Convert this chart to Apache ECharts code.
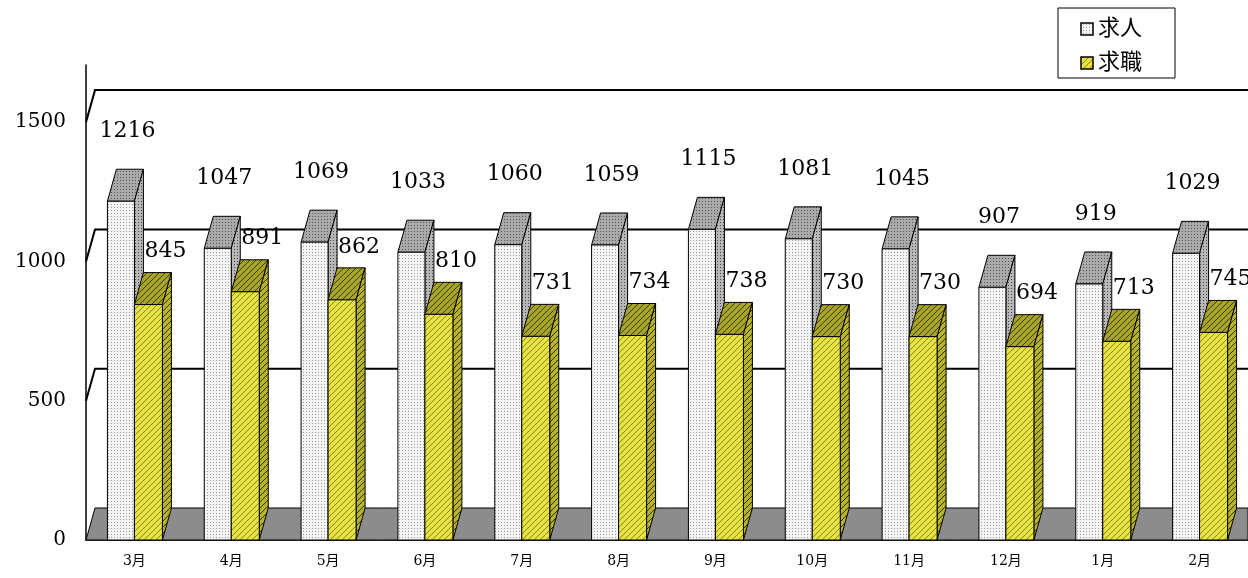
<!DOCTYPE html>
<html>
<head>
<meta charset="utf-8">
<script src="https://cdn.jsdelivr.net/npm/echarts@6/dist/echarts.min.js"></script>
<style>html,body{margin:0;padding:0;background:#fff}#main{width:1248px;height:578px}</style>
</head>
<body>
<div id="main"></div>
<script>
var months = ['3月', '4月', '5月', '6月', '7月', '8月', '9月', '10月', '11月', '12月', '1月', '2月'];
var offers = [1216, 1047, 1069, 1033, 1060, 1059, 1115, 1081, 1045, 907, 919, 1029];
var seekers = [845, 891, 862, 810, 731, 734, 738, 730, 730, 694, 713, 745];
var yTicks = [0, 500, 1000, 1500];

var DX = 9, DY = -32;
var FONT = '"DejaVu Serif", "Noto Sans CJK JP", serif';

function makePattern(bg, fg, kind) {
    var c = document.createElement('canvas');
    c.width = 6; c.height = 6;
    var g = c.getContext('2d');
    g.fillStyle = bg; g.fillRect(0, 0, 6, 6);
    g.fillStyle = fg; g.strokeStyle = fg;
    if (kind === 'dot') {
        g.fillRect(0, 0, 1, 1); g.fillRect(3, 3, 1, 1);
        g.fillRect(3, 0, 1, 1); g.fillRect(0, 3, 1, 1);
    } else {
        g.lineWidth = 1;
        g.beginPath();
        g.moveTo(0, 6); g.lineTo(6, 0);
        g.moveTo(-3, 3); g.lineTo(3, -3);
        g.moveTo(3, 9); g.lineTo(9, 3);
        g.stroke();
    }
    return { image: c, repeat: 'repeat' };
}

var pat = {
    offerFront: makePattern('#f4f4f4', '#9a9a9a', 'dot'),
    offerTop: makePattern('#aaaaaa', '#555555', 'dot'),
    offerSide: makePattern('#b8b8b8', '#444444', 'dot'),
    seekFront: makePattern('#e6e245', '#8a8a10', 'hatch'),
    seekTop: makePattern('#a8a428', '#3a3a00', 'hatch'),
    seekSide: makePattern('#b8b428', '#2a2a00', 'hatch')
};

function box(x0, x1, yTop, yBase, front, top, side) {
    var s = { stroke: '#000', lineWidth: 1 };
    return [
        { type: 'polygon', shape: { points: [[x0, yTop], [x0 + DX, yTop + DY], [x1 + DX, yTop + DY], [x1, yTop]] }, style: Object.assign({ fill: top }, s) },
        { type: 'polygon', shape: { points: [[x1, yTop], [x1 + DX, yTop + DY], [x1 + DX, yBase + DY], [x1, yBase]] }, style: Object.assign({ fill: side }, s) },
        { type: 'rect', shape: { x: x0, y: yTop, width: x1 - x0, height: yBase - yTop }, style: Object.assign({ fill: front }, s) }
    ];
}

var chart = echarts.init(document.getElementById('main'));
chart.setOption({
    animation: false,
    grid: { left: 86, right: 0, top: 65, bottom: 38 },
    xAxis: {
        type: 'category',
        data: months,
        axisLine: { lineStyle: { color: '#000', width: 1.5 } },
        axisTick: { show: false },
        axisLabel: { color: '#000', fontFamily: FONT, fontSize: 14, margin: 14 }
    },
    yAxis: {
        type: 'value',
        min: 0, max: 1705, interval: 500,
        axisLine: { show: true, lineStyle: { color: '#000', width: 1.5 } },
        axisTick: { show: false },
        splitLine: { show: false },
        axisLabel: {
            color: '#000', fontFamily: FONT, fontSize: 20, margin: 20,
            formatter: function (v) { return yTicks.indexOf(v) >= 0 ? String(v) : ''; }
        }
    },
    graphic: [
        { type: 'rect', shape: { x: 1058, y: 8, width: 117, height: 70 }, style: { fill: '#fff', stroke: '#000', lineWidth: 1 } },
        { type: 'rect', shape: { x: 1081, y: 23, width: 12, height: 12 }, style: { fill: pat.offerFront, stroke: '#000', lineWidth: 1.5 } },
        { type: 'text', style: { x: 1098, y: 29, text: '求人', fontSize: 22, fontFamily: FONT, fill: '#000', verticalAlign: 'middle' } },
        { type: 'rect', shape: { x: 1081, y: 57, width: 12, height: 12 }, style: { fill: pat.seekFront, stroke: '#000', lineWidth: 1.5 } },
        { type: 'text', style: { x: 1098, y: 63, text: '求職', fontSize: 22, fontFamily: FONT, fill: '#000', verticalAlign: 'middle' } }
    ],
    series: [
        {
            // back wall and floor
            type: 'custom',
            silent: true,
            z: 1,
            data: [[0]],
            renderItem: function (params, api) {
                var bw = api.size([1, 0])[0];
                var x0 = api.coord([0, 0])[0] - bw / 2;
                var x1 = api.coord([months.length - 1, 0])[0] + bw / 2;
                var yb = api.coord([0, 0])[1];
                var kids = [{
                    type: 'polygon',
                    shape: { points: [[x0, yb], [x0 + DX, yb + DY], [x1, yb + DY], [x1, yb]] },
                    style: { fill: '#8c8c8c', stroke: '#000', lineWidth: 1 }
                }];
                [500, 1000, 1500].forEach(function (v) {
                    var y = api.coord([0, v])[1];
                    kids.push({ type: 'polyline', shape: { points: [[x0, y], [x0 + DX, y + DY], [x1, y + DY]] }, style: { stroke: '#000', lineWidth: 2, fill: null } });
                });
                return { type: 'group', children: kids };
            }
        },
        {
            type: 'custom',
            name: '求人',
            z: 2,
            data: months.map(function (m, i) { return [i, offers[i], seekers[i]]; }),
            renderItem: function (params, api) {
                var i = api.value(0);
                var c = api.coord([i, 0]);
                var pA = api.coord([i, api.value(1)]);
                var pB = api.coord([i, api.value(2)]);
                var kids = box(c[0] - 27, c[0], pA[1], c[1], pat.offerFront, pat.offerTop, pat.offerSide)
                    .concat(box(c[0], c[0] + 28, pB[1], c[1], pat.seekFront, pat.seekTop, pat.seekSide));
                kids.push({ type: 'text', style: { x: c[0] - 7, y: pA[1] - 70, text: String(api.value(1)), fontSize: 22, fontFamily: FONT, fill: '#000', align: 'center', verticalAlign: 'middle' } });
                kids.push({ type: 'text', style: { x: c[0] + 31, y: pB[1] - 53, text: String(api.value(2)), fontSize: 22, fontFamily: FONT, fill: '#000', align: 'center', verticalAlign: 'middle' } });
                return { type: 'group', children: kids };
            }
        }
    ]
});
</script>
</body>
</html>
